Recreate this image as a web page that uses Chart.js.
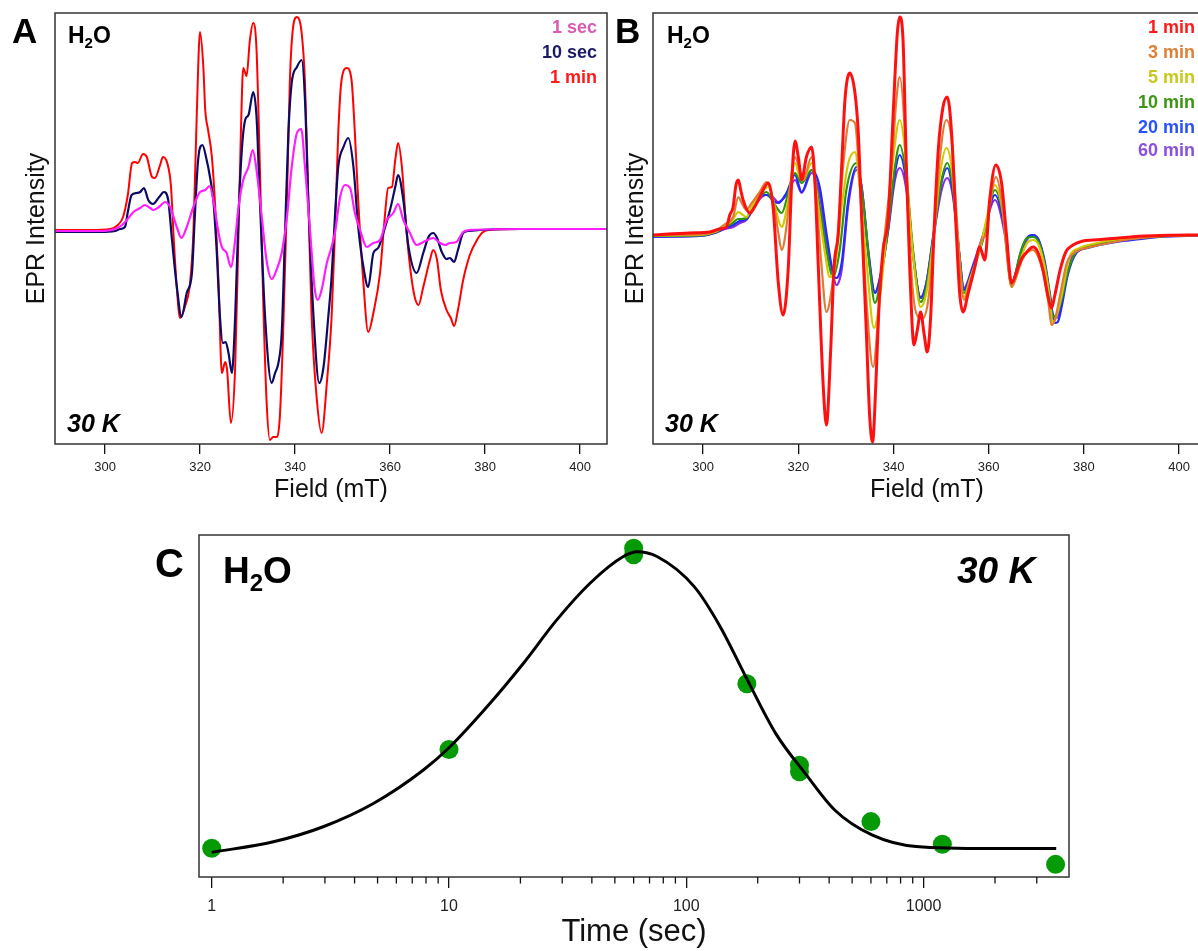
<!doctype html>
<html lang="en">
<head>
<meta charset="UTF-8" />
<title>EPR spectra, H2O, 30 K</title>
<script src="https://cdn.jsdelivr.net/npm/chart.js"></script>
<style>
  html, body { margin: 0; padding: 0; background: #fff; overflow: hidden; }
  body { width: 1198px; height: 951px; position: relative; }
  canvas { position: absolute; }
  #panelA { left: 0; top: 0; }
  #panelB { left: 612px; top: 0; }
  #panelC { left: 0; top: 520px; }
</style>
</head>
<body>
<canvas id="panelA" width="612" height="510"></canvas>
<canvas id="panelB" width="590" height="510"></canvas>
<canvas id="panelC" width="1198" height="431"></canvas>
<script>
// ---- data (field in mT, intensity in arbitrary units) ----
const fieldTicks = [300, 320, 340, 360, 380, 400];

// panel A
const a1sec = [[289.5,-1],[299.0,-1],[302.1,1],[303.6,5],[304.6,10],[306.0,18],[307.4,22],[308.4,25],[309.5,22],[310.2,20],[311.6,24],[312.6,28],[313.7,23],[315.1,3],[316.1,-8],[317.2,3],[318.6,23],[320.0,38],[321.1,40],[322.0,44],[322.8,30],[323.9,-3],[324.6,-17],[325.6,-23],[326.5,-37],[327.4,-10],[328.1,23],[329.1,50],[330.2,63],[331.1,80],[331.9,60],[333.0,13],[334.0,-30],[335.1,-49],[336.1,-40],[337.2,-23],[338.3,13],[339.3,63],[340.4,97],[341.3,101],[342.1,63],[343.2,-3],[344.1,-57],[344.8,-70],[345.6,-60],[346.7,-33],[347.7,-17],[348.4,-3],[349.5,33],[350.5,45],[351.6,42],[352.6,17],[353.7,0],[355.1,-17],[356.5,-13],[357.9,-10],[359.3,10],[360.7,17],[361.7,26],[362.8,10],[364.2,-3],[365.6,-15],[367.4,-11],[369.1,-8],[370.5,-13],[371.6,-15],[372.6,-13],[374.0,-12],[374.7,-7],[375.4,-2],[376.8,0],[387.4,1],[405.7,1]];
const a10sec = [[289.5,-2],[299.0,-2],[302.1,-1],[303.2,1],[304.2,3],[304.8,18],[305.6,35],[306.7,37],[307.4,38],[308.2,42],[309.1,30],[310.1,26],[311.4,33],[312.4,38],[313.3,30],[314.1,-10],[315.2,-60],[316.1,-87],[317.2,-63],[318.3,-43],[318.9,13],[319.6,70],[320.5,85],[321.4,70],[322.1,53],[322.8,30],[323.5,-20],[324.2,-87],[324.8,-113],[325.4,-112],[326.0,-123],[326.7,-143],[327.4,-87],[328.1,13],[328.8,80],[329.5,110],[330.2,115],[331.2,138],[331.9,113],[332.6,30],[333.7,-87],[335.1,-153],[335.8,-143],[336.5,-133],[337.2,-103],[337.9,-3],[338.6,97],[339.3,147],[340.4,163],[341.4,170],[342.1,130],[342.8,30],[343.9,-87],[345.1,-153],[346.0,-137],[347.0,-87],[347.7,-47],[348.4,13],[349.1,63],[350.2,83],[351.2,92],[352.3,63],[353.3,3],[354.4,-37],[355.4,-57],[356.5,-23],[357.5,-18],[358.6,-3],[360.0,20],[361.1,43],[361.7,55],[362.8,30],[363.9,-17],[365.6,-43],[367.0,-23],[368.1,-7],[369.1,-3],[369.9,-8],[370.9,-22],[371.9,-29],[372.6,-28],[373.5,-32],[374.3,-20],[375.4,-3],[376.4,-1],[378.9,0],[387.4,1],[405.7,1]];
const a1min = [[289.5,0],[296.8,0],[301.1,1],[302.7,5],[303.8,13],[304.8,35],[305.7,67],[306.3,68],[306.9,67],[308.0,76],[308.8,73],[309.9,53],[310.5,52],[311.6,65],[312.2,73],[313.1,67],[313.9,43],[314.4,-3],[315.1,-57],[315.8,-88],[316.8,-77],[317.9,-53],[318.6,-3],[319.3,113],[320.0,198],[320.7,163],[321.1,120],[321.7,100],[322.5,73],[323.2,23],[323.9,-53],[324.6,-143],[325.3,-132],[325.7,-140],[326.5,-193],[327.4,-137],[328.1,-3],[328.6,97],[329.1,162],[329.8,154],[330.5,190],[331.2,207],[331.9,180],[332.6,63],[333.3,-70],[334.0,-170],[334.7,-210],[335.4,-207],[336.1,-207],[336.8,-187],[337.5,-103],[338.3,30],[338.9,147],[339.6,203],[340.4,213],[341.4,197],[342.1,147],[342.8,30],[343.5,-87],[344.6,-170],[345.6,-203],[346.7,-153],[347.7,-87],[348.4,-3],[349.1,97],[349.8,150],[350.9,162],[351.9,150],[352.6,97],[353.3,30],[354.4,-53],[355.4,-102],[356.5,-83],[357.9,-43],[358.9,13],[359.6,42],[360.4,43],[361.1,70],[361.7,87],[362.5,63],[363.5,-3],[364.9,-60],[366.0,-75],[367.0,-57],[368.4,-30],[369.1,-20],[369.9,-30],[370.7,-60],[371.9,-80],[372.8,-88],[373.5,-96],[374.3,-80],[375.4,-50],[376.8,-25],[378.3,-10],[379.6,-2],[381.1,0],[387.4,1],[395.8,1],[405.7,1]];

// panel B
const b1min = [[289.4,0],[297.2,2],[301.4,3],[303.5,6],[304.9,8],[305.6,20],[306.3,28],[306.9,50],[307.4,55],[307.9,45],[308.4,35],[309.8,22],[310.7,27],[311.9,38],[313.7,52],[314.7,28],[315.8,-48],[316.8,-80],[317.9,-32],[318.6,52],[319.3,94],[320.0,78],[320.7,55],[321.7,78],[322.8,88],[323.5,52],[324.2,-32],[325.2,-148],[325.9,-190],[326.8,-115],[327.5,-32],[328.4,2],[329.1,68],[329.8,135],[330.8,162],[331.9,142],[332.6,102],[333.3,18],[334.3,-98],[335.0,-182],[335.6,-207],[336.3,-148],[337.0,-65],[337.8,-15],[338.9,18],[339.9,118],[340.8,202],[341.3,218],[342.0,195],[342.7,68],[343.4,-32],[344.3,-110],[345.0,-95],[345.7,-77],[346.4,-98],[347.1,-117],[347.8,-82],[348.5,2],[349.4,85],[350.4,128],[351.3,138],[352.2,102],[353.2,2],[353.9,-58],[354.6,-77],[355.7,-58],[357.1,-32],[358.1,-12],[359.2,-25],[360.2,35],[361.5,70],[362.7,52],[363.7,2],[364.8,-48],[366.2,-32],[367.0,-23],[368.0,-17],[369.3,-12],[370.3,-17],[371.4,-35],[372.4,-60],[373.2,-73],[373.9,-60],[375.0,-35],[376.2,-17],[377.7,-10],[379.8,-6],[381.9,-5],[386.1,-3.5],[390.3,-1.7],[396.0,-0.5],[404.6,0]];
const b3min = [[289.4,0],[299.3,0.5],[302.4,3.5],[304.6,11],[306.3,18],[307.4,38],[308.1,32],[309.1,25],[310.2,32],[311.9,43],[313.3,53],[314.7,35],[315.8,2],[316.5,-15],[317.5,8],[318.6,62],[319.3,78],[320.3,65],[321.0,55],[322.8,78],[323.8,35],[324.9,-32],[325.9,-77],[327.0,-55],[328.2,-5],[329.4,68],[330.8,115],[331.9,112],[332.9,52],[334.3,-65],[335.7,-132],[336.8,-82],[337.8,-18],[339.6,68],[340.6,135],[341.3,158],[342.2,118],[343.1,18],[344.1,-58],[345.2,-82],[346.2,-83],[347.3,-65],[348.3,-15],[349.7,75],[351.1,115],[352.2,95],[353.6,-5],[354.8,-65],[356.0,-48],[357.4,-25],[358.5,-5],[359.5,2],[360.6,42],[361.5,58],[362.7,35],[364.1,-32],[364.8,-52],[365.7,-43],[367.0,-25],[368.2,-17],[369.3,-15],[370.5,-23],[371.8,-45],[372.6,-70],[373.2,-90],[373.9,-85],[375.0,-60],[376.4,-28],[378.3,-17],[380.5,-13],[383.3,-10],[387.5,-6],[390.3,-4],[396.0,-1.5],[404.6,0]];
const b5min = [[289.4,-0.5],[299.3,0],[302.4,3],[304.6,9],[306.2,15],[307.4,23],[308.1,21],[309.1,18],[310.2,28],[311.9,40],[313.7,48],[315.1,28],[316.5,8],[317.9,35],[319.3,72],[320.3,58],[321.0,55],[322.8,72],[324.2,28],[325.6,-18],[326.6,-42],[327.7,-32],[329.1,28],[330.5,72],[331.9,83],[332.9,48],[334.3,-25],[335.9,-93],[337.1,-65],[338.5,2],[339.9,75],[341.3,115],[342.4,85],[343.4,18],[344.5,-38],[345.7,-72],[346.9,-58],[348.3,-8],[349.7,58],[351.1,87],[352.2,68],[353.6,-15],[354.8,-62],[356.0,-45],[358.1,-15],[359.5,15],[361.3,50],[363.0,22],[364.8,-52],[365.7,-43],[367.0,-20],[368.2,-7],[369.3,-5],[370.5,-10],[371.8,-33],[372.8,-63],[373.4,-87],[374.1,-83],[375.2,-63],[377.0,-22],[379.1,-13],[381.9,-9],[386.1,-5],[390.3,-3],[396.0,-1],[404.6,0]];
const b10min = [[289.4,-1],[299.3,-0.5],[302.4,2.5],[304.6,8],[306.2,12],[307.3,16],[308.1,16],[309.1,17],[310.2,27],[311.9,38],[313.3,43],[315.1,30],[316.5,22],[317.9,42],[319.3,62],[320.7,52],[322.8,65],[324.5,28],[325.9,-15],[327.3,-42],[328.7,-15],[330.1,45],[332.2,72],[333.6,35],[335.0,-32],[336.1,-68],[337.5,-38],[338.9,8],[340.3,68],[341.3,90],[342.7,58],[344.1,-15],[345.7,-67],[346.9,-52],[348.3,-5],[350.1,55],[351.3,72],[352.5,48],[353.8,-18],[354.8,-58],[356.7,-35],[358.8,-5],[361.3,45],[363.4,8],[364.8,-52],[365.5,-41],[366.7,-17],[368.0,-3],[369.3,-2],[370.5,-7],[371.8,-30],[372.8,-60],[373.5,-82],[374.3,-79],[375.4,-63],[376.6,-37],[378.3,-17],[380.8,-11],[383.3,-8],[387.5,-5],[390.3,-3.5],[396.0,-1.5],[404.6,0]];
const b20min = [[289.4,-1.7],[299.3,-1],[302.4,2],[304.6,7],[306.3,10],[307.7,14],[309.1,16],[310.2,25],[311.9,40],[313.3,40],[315.1,33],[315.8,32],[317.5,42],[319.3,60],[320.7,43],[322.8,65],[324.5,48],[325.9,2],[327.3,-38],[328.0,-43],[329.1,-28],[330.5,35],[332.2,68],[333.3,48],[334.7,-18],[336.1,-58],[337.5,-35],[338.9,8],[340.3,62],[341.3,80],[342.7,52],[344.1,-18],[345.7,-63],[346.9,-48],[348.3,-2],[350.1,53],[351.3,67],[352.5,42],[353.8,-18],[354.8,-55],[356.7,-32],[358.8,-2],[361.3,40],[363.4,5],[364.8,-50],[365.5,-41],[366.7,-18],[368.0,-3],[369.2,0],[370.5,-5],[371.8,-27],[372.8,-57],[373.9,-88],[374.5,-87],[375.4,-70],[376.6,-40],[378.4,-18],[380.8,-13],[383.3,-10],[387.5,-6.5],[390.3,-5],[396.0,-2],[404.6,-0.5]];
const b60min = [[289.4,-1.7],[299.3,-1],[302.4,2],[304.6,6],[306.3,8],[307.7,12],[309.1,15],[310.2,23],[311.9,36],[313.3,40],[314.6,38],[315.8,33],[317.5,40],[319.3,55],[320.7,42],[322.8,62],[324.5,40],[325.9,-5],[327.3,-40],[328.0,-50],[329.1,-35],[330.5,30],[332.2,65],[333.3,48],[334.7,-15],[336.1,-57],[337.5,-35],[338.9,5],[340.3,55],[341.3,67],[342.7,45],[344.1,-20],[345.7,-62],[346.9,-48],[348.3,-5],[350.1,45],[351.3,57],[352.5,38],[353.8,-18],[354.8,-53],[356.7,-30],[358.8,0],[361.3,35],[363.4,0],[364.8,-50],[365.5,-43],[366.7,-20],[368.0,-5],[369.3,0],[370.5,-5],[371.8,-30],[372.8,-60],[373.5,-80],[374.3,-83],[375.1,-70],[376.2,-45],[377.7,-20],[379.8,-13],[381.9,-10],[386.1,-6],[390.3,-3],[396.0,-1],[404.6,0]];

// panel C (time in s, relative signal)
const timeTicks = [1, 10, 100, 1000];
const timeMinorTicks = [2,3,4,5,6,7,8,9,20,30,40,50,60,70,80,90,200,300,400,500,600,700,800,900,2000,3000];
const timePoints = [1, 10, 60, 60, 180, 300, 300, 600, 1200, 3600];
const signalPoints = [8.4, 37.3, 96.1, 94.2, 56.5, 32.7, 30.8, 16.2, 9.6, 3.7];
const fitTimes = [1, 1.82, 2.95, 4.8, 7.8, 10.1, 14.9, 20.6, 28.4, 39.3, 54.3, 62, 75.3, 108, 139, 178, 238, 317, 422, 606, 931, 1911, 3623];
const fitSignal = [7.2, 10.3, 14.7, 21.5, 31.3, 38.1, 50.8, 62.5, 75.1, 85.9, 93.7, 95.1, 93.7, 84.9, 73.2, 58.6, 42.0, 30.3, 19.6, 12.3, 8.9, 8.3, 8.3];

// ---- drawing ----
const FAMILY = '"Liberation Sans", Arial, Helvetica, sans-serif';
Chart.defaults.font.family = FAMILY;
Chart.defaults.color = '#222';

function f(style, size) { return style + ' ' + size + 'px ' + FAMILY; }

function h2o(x, y, size, subSize, subDy) {
  return { x: x, y: y, color: '#000', parts: [
    { t: 'H', font: f('bold', size) },
    { t: '2', font: f('bold', subSize), dy: subDy },
    { t: 'O', font: f('bold', size) }
  ]};
}
function txt(t, x, y, font, color, align) {
  return { x: x, y: y, color: color || '#000', align: align, parts: [{ t: t, font: font }] };
}

// frame, extra tick marks and in-panel labels
function decor(texts, minor) {
  return {
    id: 'decor',
    afterDraw(chart) {
      const ctx = chart.ctx, a = chart.chartArea;
      ctx.save();
      ctx.strokeStyle = '#333';
      ctx.lineWidth = 1.5;
      ctx.strokeRect(a.left, a.top, a.right - a.left, a.bottom - a.top);
      if (minor) {
        const sx = chart.scales.x;
        ctx.strokeStyle = '#111';
        ctx.lineWidth = 1.3;
        ctx.beginPath();
        minor.values.forEach(v => {
          const px = sx.getPixelForValue(v);
          ctx.moveTo(px, a.bottom);
          ctx.lineTo(px, a.bottom + minor.len);
        });
        ctx.stroke();
      }
      ctx.textBaseline = 'alphabetic';
      ctx.textAlign = 'left';
      texts.forEach(t => {
        let total = 0;
        t.parts.forEach(p => { ctx.font = p.font; total += ctx.measureText(p.t).width; });
        let x = t.align === 'right' ? t.x - total : t.x;
        ctx.fillStyle = t.color;
        t.parts.forEach(p => {
          ctx.font = p.font;
          ctx.fillText(p.t, x, t.y + (p.dy || 0));
          x += ctx.measureText(p.t).width;
        });
      });
      ctx.restore();
    }
  };
}

function line(data, color, width) {
  return {
    data: data, showLine: true, borderColor: color, borderWidth: width,
    pointRadius: 0, cubicInterpolationMode: 'monotone', fill: false
  };
}

function spectrum(id, datasets, xMax, yMin, yMax, yAxisWidth, yTitlePad, padRight, texts) {
  new Chart(document.getElementById(id), {
    type: 'scatter',
    data: { datasets: datasets },
    options: {
      responsive: false, animation: false, events: [],
      layout: { padding: { left: 0, right: padRight, top: 13, bottom: 0 } },
      plugins: { legend: { display: false }, tooltip: { enabled: false } },
      scales: {
        x: {
          type: 'linear', min: 289.47, max: xMax,
          afterBuildTicks: s => { s.ticks = fieldTicks.map(v => ({ value: v })); },
          afterFit: s => { s.height = 66; },
          border: { display: false },
          grid: { drawOnChartArea: false, drawTicks: true, tickLength: 10, color: '#111', lineWidth: 1.3 },
          ticks: { font: { size: 13 }, color: '#222', padding: 6, maxRotation: 0, autoSkip: false },
          title: { display: true, text: 'Field (mT)', font: { size: 25 }, color: '#111', padding: { top: 0, bottom: 5 } }
        },
        y: {
          type: 'linear', min: yMin, max: yMax,
          afterFit: s => { s.width = yAxisWidth; },
          border: { display: false },
          grid: { display: false },
          ticks: { display: false },
          title: { display: true, text: 'EPR Intensity', font: { size: 25 }, color: '#111', padding: { top: yTitlePad, bottom: 0 } }
        }
      }
    },
    plugins: [decor(texts)]
  });
}

spectrum('panelA', [
  line(a1sec, '#ff1eff', 2.2),
  line(a10sec, '#0b0b66', 2.2),
  line(a1min, '#ff0000', 2)
], 405.68, -214, 217, 55, 22, 5, [
  txt('A', 12, 43, f('bold', 35)),
  h2o(68, 43, 23, 15, 5),
  txt('30 K', 67, 432, f('italic bold', 25)),
  txt('1 sec', 597, 33, f('bold', 18), '#d55bb4', 'right'),
  txt('10 sec', 597, 58, f('bold', 18), '#1a1a66', 'right'),
  txt('1 min', 597, 83, f('bold', 18), '#ff1a1a', 'right')
]);

spectrum('panelB', [
  line(b1min, '#ff1010', 3),
  line(b3min, '#e07b35', 2.2),
  line(b5min, '#d2c800', 2.2),
  line(b10min, '#2d9610', 2.2),
  line(b20min, '#1f2bff', 2.2),
  line(b60min, '#8a2be2', 2.2)
], 404.6, -209, 222, 41, 9, 1, [
  txt('B', 3, 43, f('bold', 35)),
  h2o(55, 43, 23, 15, 5),
  txt('30 K', 53, 432, f('italic bold', 25)),
  txt('1 min', 583, 33, f('bold', 18), '#ff1a1a', 'right'),
  txt('3 min', 583, 58, f('bold', 18), '#e08038', 'right'),
  txt('5 min', 583, 83, f('bold', 18), '#c8c81e', 'right'),
  txt('10 min', 583, 108, f('bold', 18), '#3c9614', 'right'),
  txt('20 min', 583, 133, f('bold', 18), '#2850ff', 'right'),
  txt('60 min', 583, 156, f('bold', 18), '#8a50e0', 'right')
]);

new Chart(document.getElementById('panelC'), {
  type: 'scatter',
  data: {
    datasets: [
      Object.assign(line(fitTimes.map((t, i) => ({ x: t, y: fitSignal[i] })), '#000', 3), { order: 0 }),
      {
        data: timePoints.map((t, i) => ({ x: t, y: signalPoints[i] })),
        pointRadius: 9.5, pointBackgroundColor: '#079a07', pointBorderWidth: 0,
        showLine: false, order: 1
      }
    ]
  },
  options: {
    responsive: false, animation: false, events: [],
    layout: { padding: { left: 199, right: 129, top: 15, bottom: 0 } },
    plugins: { legend: { display: false }, tooltip: { enabled: false } },
    scales: {
      x: {
        type: 'logarithmic', min: 0.884, max: 4101,
        afterBuildTicks: s => { s.ticks = timeTicks.map(v => ({ value: v })); },
        afterFit: s => { s.height = 74; },
        border: { display: false },
        grid: { drawOnChartArea: false, drawTicks: true, tickLength: 11, color: '#111', lineWidth: 1.3 },
        ticks: { font: { size: 16 }, color: '#222', padding: 9, maxRotation: 0, autoSkip: false, callback: v => String(v) },
        title: { display: true, text: 'Time (sec)', font: { size: 31 }, color: '#111', padding: { top: 0, bottom: 0 } }
      },
      y: { type: 'linear', min: 0, max: 100, display: false }
    }
  },
  plugins: [decor([
    txt('C', 155, 57, f('bold', 40)),
    h2o(223, 63, 37, 24, 7.5),
    txt('30 K', 957, 63, f('italic bold', 37))
  ], { values: timeMinorTicks, len: 6.5 })]
});
</script>
</body>
</html>
